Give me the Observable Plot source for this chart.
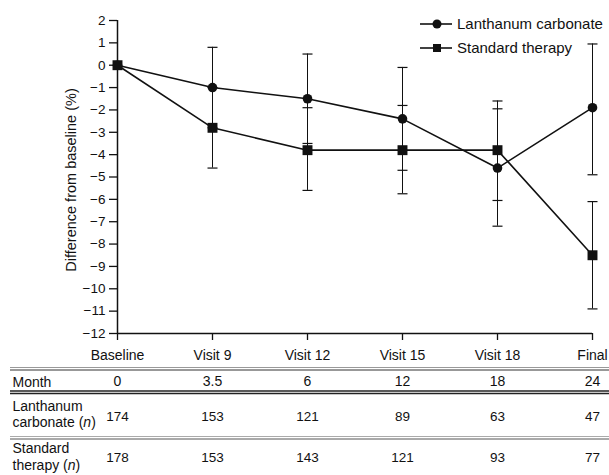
<!DOCTYPE html>
<html>
<head>
<meta charset="utf-8">
<script src="https://cdn.jsdelivr.net/npm/d3@7"></script>
<script src="https://cdn.jsdelivr.net/npm/@observablehq/plot@0.6"></script>
<style>
  body { margin: 0; background: #fff; }
  #chart svg { display: block; }
</style>
</head>
<body>
<div id="chart"></div>
<script>
// Visits along the x axis
const categories = ["Baseline", "Visit 9", "Visit 12", "Visit 15", "Visit 18", "Final"];
const yTicks = d3.range(-12, 3);

// Table below the axis
const months = ["0", "3.5", "6", "12", "18", "24"];
const lanthanumN = [174, 153, 121, 89, 63, 47];
const standardN = [178, 153, 143, 121, 93, 77];

// Mean change from baseline (%) with error-bar limits
const lanthanumMean  = [0, -1.0, -1.5, -2.4, -4.6, -1.9];
const lanthanumUpper = [null, 0.8, 0.5, -0.1, -1.95, 0.95];
const lanthanumLower = [null, -2.8, -3.5, -4.7, -7.2, -4.9];

const standardMean  = [0, -2.8, -3.8, -3.8, -3.8, -8.5];
const standardUpper = [null, -1.0, -1.9, -1.8, -1.6, -6.1];
const standardLower = [null, -4.6, -5.6, -5.75, -6.05, -10.9];

const seriesNames = ["Lanthanum carbonate", "Standard therapy"];

const rows = [
  ...categories.map((c, i) => ({series: seriesNames[0], visit: c, mean: lanthanumMean[i], lower: lanthanumLower[i], upper: lanthanumUpper[i]})),
  ...categories.map((c, i) => ({series: seriesNames[1], visit: c, mean: standardMean[i], lower: standardLower[i], upper: standardUpper[i]}))
];
const bars = rows.filter(d => d.upper != null);

const ink = "#111";
const font = "'Liberation Sans', Arial, Helvetica, sans-serif";

// Horizontal cap drawn as a dot symbol; half-width equals r
const cap = {
  draw(context, size) {
    const w = Math.sqrt(size / Math.PI);
    context.moveTo(-w, 0);
    context.lineTo(w, 0);
  }
};

// Horizontal rules of the table, as offsets below the x axis
function tableRule(dy, stroke, strokeWidth = 1) {
  return Plot.ruleY([-12], {dy, stroke, strokeWidth, insetLeft: -107, insetRight: -17});
}

// Table text: a row label on the left, or one value per visit column
const cell = {frameAnchor: "bottom", lineAnchor: "middle", fill: ink};
function rowLabel(text, dy, lineHeight = 1.15) {
  return Plot.text([text], {...cell, frameAnchor: "bottom-left", dx: -105, dy, textAnchor: "start", lineHeight, fontSize: 14});
}
function rowValues(values, dy, fontSize) {
  return Plot.text(categories, {...cell, x: d => d, text: (d, i) => String(values[i]), dy, fontSize});
}

const plot = Plot.plot({
  width: 609,
  height: 475,
  marginLeft: 117,
  marginRight: 17,
  marginTop: 20,
  marginBottom: 142,
  style: {fontFamily: font, fontSize: "13px", color: ink, background: "#fff"},
  x: {type: "point", domain: categories, padding: 0},
  y: {domain: [-12, 2]},
  marks: [
    // axes
    Plot.axisY({ticks: yTicks, tickSize: 8, tickPadding: 4, fontSize: 13.5, label: null, strokeWidth: 1.3}),
    Plot.axisX({tickSize: 7, tickPadding: 10, fontSize: 14, label: null, strokeWidth: 1.3}),
    Plot.ruleY([-12], {stroke: ink, strokeWidth: 1.5}),
    Plot.ruleX([categories[0]], {stroke: ink, strokeWidth: 1.5}),
    Plot.text(["Difference from baseline (%)"], {frameAnchor: "left", dx: -46, dy: 3, rotate: -90, textAnchor: "middle", lineAnchor: "middle", fontSize: 14.5, fill: ink}),

    // error bars
    Plot.ruleX(bars, {x: "visit", y1: "lower", y2: "upper", stroke: ink, strokeWidth: 1}),
    Plot.dot(bars, {x: "visit", y: "upper", symbol: cap, r: 5, stroke: ink, strokeWidth: 1.2}),
    Plot.dot(bars, {x: "visit", y: "lower", symbol: cap, r: 5, stroke: ink, strokeWidth: 1.2}),

    // series lines and markers
    Plot.line(rows, {x: "visit", y: "mean", z: "series", stroke: ink, strokeWidth: 1.6}),
    Plot.dot(rows.filter(d => d.series === seriesNames[0]), {x: "visit", y: "mean", symbol: "circle", r: 4.8, fill: ink, stroke: "none"}),
    Plot.dot(rows.filter(d => d.series === seriesNames[1]), {x: "visit", y: "mean", symbol: "square", r: 5.6, fill: ink, stroke: "none"}),

    // table rules
    tableRule(34, "#999"), tableRule(36.5, "#333"),
    tableRule(57.5, "#222", 1.3), tableRule(60, "#222", 1.3),
    tableRule(103, "#aaa"), tableRule(105.5, "#555"),

    // table rows
    rowLabel("Month", 48),
    rowValues(months, 48, 14),
    rowLabel("Lanthanum\ncarbonate (n)", 80),
    rowValues(lanthanumN, 83, 13.5),
    rowLabel("Standard\ntherapy (n)", 123, 1.2),
    rowValues(standardN, 124, 13.5)
  ]
});

const svg = d3.select(plot);

// Set the "n" of the row labels in italics
svg.selectAll("tspan").filter(function () { return /\(n\)$/.test(this.textContent); }).each(function () {
  const t = d3.select(this);
  const head = this.textContent.replace(/\(n\)$/, "(");
  t.text(head);
  t.append("tspan").attr("font-style", "italic").text("n");
  t.append("tspan").text(")");
});

// Legend in the upper right corner
const legend = svg.append("g").attr("font-family", font).attr("font-size", 15).attr("fill", ink);
const symbols = [d3.symbol(d3.symbolCircle, Math.PI * 4.5 * 4.5), d3.symbol(d3.symbolSquare, 64)];
seriesNames.forEach((name, i) => {
  const y = 24 + i * 24;
  legend.append("line").attr("x1", 420).attr("x2", 452).attr("y1", y).attr("y2", y)
    .attr("stroke", ink).attr("stroke-width", 1.6);
  legend.append("path").attr("d", symbols[i]()).attr("transform", `translate(437,${y})`).attr("fill", ink);
  legend.append("text").attr("x", 457).attr("y", y).attr("dy", "0.35em").attr("text-anchor", "start").text(name);
});

document.getElementById("chart").append(plot);
</script>
</body>
</html>
